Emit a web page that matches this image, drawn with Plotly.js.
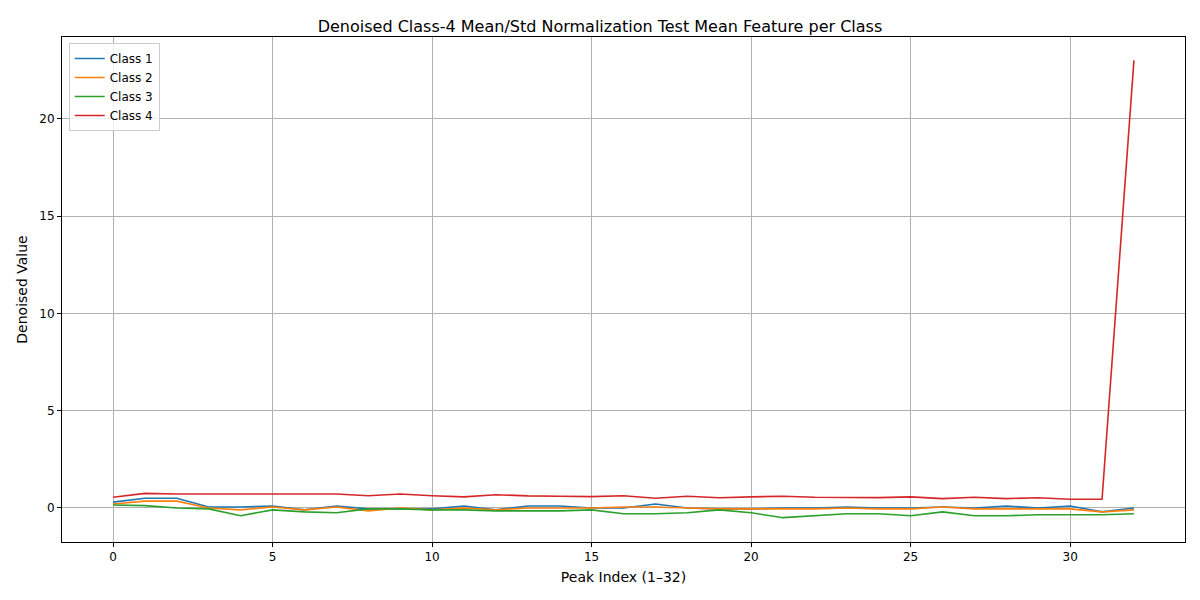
<!DOCTYPE html>
<html>
<head>
<script src="https://cdn.plot.ly/plotly-3.0.1.min.js"></script>
<style>body{margin:0}</style>
</head>
<body>
<div id="myDiv" style="width:1200px;height:600px"></div>
<script>
var peakIndex = [];
for (var i = 0; i <= 32; i++) peakIndex.push(i);

var class1 = [0.3,0.5,0.5,0.05,0.05,0.1,-0.1,0.1,-0.05,-0.05,-0.05,0.1,-0.1,0.1,0.1,0,0,0.2,0,-0.05,-0.05,0,0,0.05,0,0,0.05,0,0.1,0,0.1,-0.2,0];
var class2 = [0.2,0.35,0.35,0,-0.1,0.05,-0.1,0.05,-0.15,0,-0.1,0,-0.1,0,0,0,0.05,0.05,0,-0.05,-0.05,-0.05,-0.05,0,-0.05,-0.05,0.05,-0.05,-0.05,-0.05,-0.05,-0.2,-0.1];
var class3 = [0.15,0.12,0,-0.05,-0.4,-0.1,-0.2,-0.25,-0.05,-0.05,-0.1,-0.1,-0.15,-0.15,-0.15,-0.1,-0.3,-0.3,-0.25,-0.1,-0.25,-0.5,-0.4,-0.3,-0.3,-0.4,-0.2,-0.4,-0.4,-0.35,-0.35,-0.35,-0.3];
var class4 = [0.55,0.75,0.72,0.72,0.72,0.71,0.72,0.72,0.63,0.72,0.63,0.57,0.68,0.62,0.6,0.58,0.63,0.5,0.6,0.52,0.57,0.6,0.55,0.54,0.53,0.57,0.48,0.55,0.48,0.52,0.45,0.45,23.0];

var names = ['Class 1','Class 2','Class 3','Class 4'];
var series = [class1, class2, class3, class4];
var colors = ['#1f77b4','#ff7f0e','#2ca02c','#d62728'];

var data = series.map(function(s, k){
    return {x: peakIndex, y: s, name: names[k], type: 'scatter', mode: 'lines',
            line: {color: colors[k], width: 1.6}};
});

var axisStyle = {showgrid: true, gridcolor: '#b0b0b0', gridwidth: 1, zeroline: false,
                 showline: true, mirror: true, linecolor: '#000', linewidth: 1,
                 ticks: 'outside', ticklen: 4, tickcolor: '#000'};

var layout = {
    width: 1200, height: 600,
    margin: {l: 62, r: 15, t: 37, b: 58},
    font: {family: 'DejaVu Sans', size: 12, color: '#000'},
    title: {text: 'Denoised Class-4 Mean/Std Normalization Test Mean Feature per Class', font: {size: 16}, x: 0.5, y: 0.965},
    xaxis: Object.assign({title: {text: 'Peak Index (1–32)', standoff: 8}, range: [-1.6, 33.6], dtick: 5}, axisStyle),
    yaxis: Object.assign({title: {text: 'Denoised Value', standoff: 8}, range: [-1.75, 24.2], dtick: 5}, axisStyle),
    legend: {x: 0.006, y: 0.988, xanchor: 'left', yanchor: 'top', bordercolor: '#ccc', borderwidth: 1, bgcolor: 'rgba(255,255,255,0.8)'},
    plot_bgcolor: '#fff', paper_bgcolor: '#fff',
    showlegend: true
};

Plotly.newPlot('myDiv', data, layout, {displayModeBar: false});
</script>
</body>
</html>
